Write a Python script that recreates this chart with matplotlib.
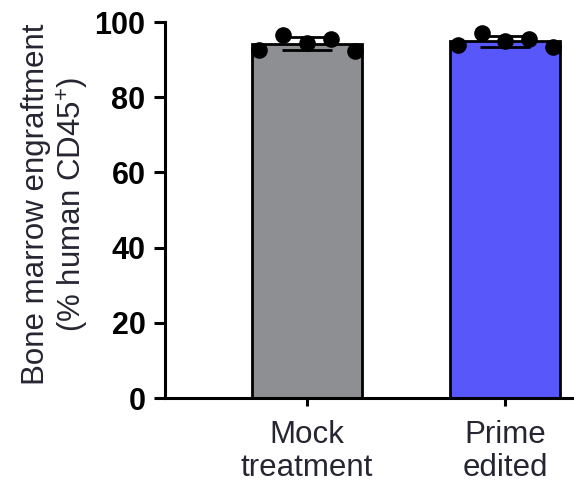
import numpy as np
import matplotlib.pyplot as plt

plt.rcParams['font.family'] = ['Liberation Sans', 'DejaVu Sans']
plt.rcParams['mathtext.default'] = 'regular'

groups = ['Mock\ntreatment', 'Prime\nedited']
mock = [92.6, 96.5, 94.3, 95.4, 92.4]
prime = [93.9, 97.0, 94.9, 95.5, 93.3]
colors = ['#8e8f93', '#5757fa']
yticks = [0, 20, 40, 60, 80, 100]

data = [mock, prime]
means = [np.mean(d) for d in data]
sds = [np.std(d, ddof=1) for d in data]
x = np.arange(len(groups))

fig = plt.figure(figsize=(5.74, 4.84), dpi=100)
ax = fig.add_axes([165/574, 1-398/484, 1-165/574, (398-22)/484])

ax.bar(x, means, width=0.555, color=colors, edgecolor='black', linewidth=2, zorder=1)
ax.errorbar(x, means, yerr=sds, fmt='none', ecolor='black', elinewidth=2,
            capsize=18, capthick=2, zorder=2)
offs = np.array([-0.24, -0.12, 0.0, 0.12, 0.24])
for i, d in enumerate(data):
    ax.scatter(x[i] + offs, d, s=120, color='black', zorder=3, clip_on=False)

ax.set_xlim(-0.716, 1.346)
ax.set_ylim(0, 100)
ax.set_yticks(yticks)
ax.set_xticks(x)
ax.set_xticklabels(groups, fontsize=22.5, color='#262633', linespacing=1.1)
for lab in ax.get_yticklabels():
    lab.set_fontsize(22)
    lab.set_fontweight('bold')
ax.set_ylabel('Bone marrow engraftment\n(% human CD45$^{+}$)', fontsize=22.5,
              color='#262633', linespacing=1.15)
ax.yaxis.set_label_coords(-0.18, 0.515)

for s in ['top', 'right']:
    ax.spines[s].set_visible(False)
for s in ['left', 'bottom']:
    ax.spines[s].set_linewidth(2.2)
ax.tick_params(axis='y', length=8, width=2.2, pad=6)
ax.tick_params(axis='x', length=6, width=2.2, pad=10)

fig.savefig('out.png', dpi=100)
